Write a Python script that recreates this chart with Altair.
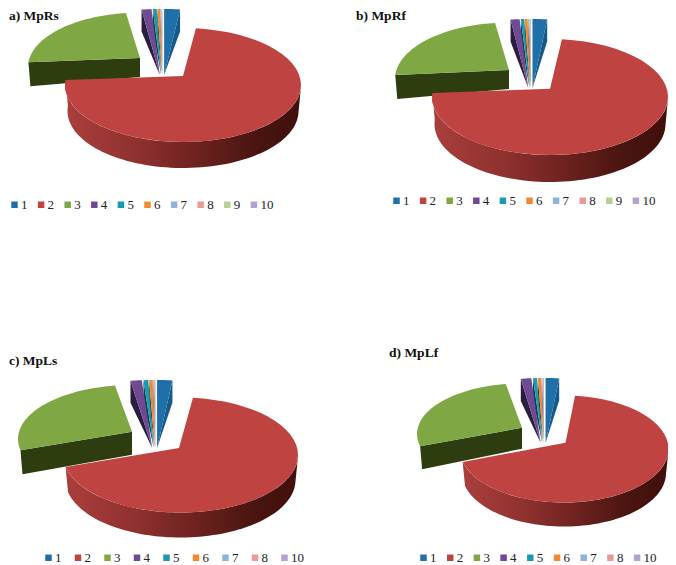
import math
import altair as alt

LABELS = ["1", "2", "3", "4", "5", "6", "7", "8", "9", "10"]
COLORS = ["#1f6fa8", "#be4341", "#7fa844", "#6f4a92", "#1a9ab0", "#f08a30",
          "#8fb2db", "#e79a98", "#b6d196", "#b3a2c9"]
WALLS = ["#155a88", "#be4341", "#2d3d10", "#2a1d40", "#0f3f4a", "#3a2a20",
         "#2a2a30", "#2a2a30", "#2a2a30", "#2a2a30"]

# Share of each category (percent)
MPRS = [1.75, 74.64, 21.61, 1.09, 0.42, 0.29, 0.1, 0.08, 0.01, 0.01]
MPRF = [1.61, 74.5, 21.94, 1.0, 0.36, 0.31, 0.07, 0.07, 0.07, 0.07]
MPLS = [1.69, 69.97, 25.94, 1.25, 0.53, 0.39, 0.08, 0.08, 0.0, 0.06]
MPLF = [1.69, 69.42, 26.42, 1.31, 0.5, 0.42, 0.08, 0.08, 0.0, 0.08]

# Layout of each panel, in page pixels
PANELS = [
    dict(title="a) MpRs", values=MPRS, tx=9, ty=16, skip=None,
         lx=11, ly=204, pad=0.6,
         red=dict(ax=183, ay=76, cx=183, cy=85, rx=118, ry=57, d=26),
         green=dict(ax=140, ay=58, cx=140, cy=67, rx=112, ry=54.4, da=19, dl=24),
         small=dict(ax=162.5, ay=75, cy=84, rx=145, ry=75, d=22)),
    dict(title="b) MpRf", values=MPRF, tx=356, ty=16, skip=None,
         lx=393, ly=200, pad=0.6,
         red=dict(ax=550, ay=88.7, cx=550, cy=97, rx=118, ry=58, d=27),
         green=dict(ax=509, ay=70, cx=509, cy=79, rx=114, ry=56.5, da=19, dl=24),
         small=dict(ax=531, ay=88, cy=97, rx=145, ry=78, d=22)),
    dict(title="c) MpLs", values=MPLS, tx=9, ty=361, skip="9",
         lx=45, ly=557, pad=3.5,
         red=dict(ax=179, ay=448, cx=180.5, cy=455, rx=117.5, ry=57.5, d=25),
         green=dict(ax=132, ay=431.7, cx=132, cy=439, rx=114, ry=54, da=23, dl=24),
         small=dict(ax=155.5, ay=448, cy=457, rx=145, ry=77, d=22)),
    dict(title="d) MpLf", values=MPLF, tx=389, ty=353, skip="9",
         lx=420, ly=557, pad=0.7,
         red=dict(ax=565.5, ay=442.7, cx=564, cy=449, rx=104.5, ry=53.5, d=24),
         green=dict(ax=522, ay=427.7, cx=522, cy=434, rx=105, ry=50.6, da=21, dl=23),
         small=dict(ax=544, ay=442.7, cy=451, rx=128, ry=73, d=22)),
]

M = 8  # page margin
W, H = 660, 557


def X(v):
    return v - M


def Y(v):
    return v - M


def pt(cx, cy, rx, ry, deg):
    t = math.radians(deg)
    return [X(cx + rx * math.sin(t)), Y(cy - ry * math.cos(t))]


def arc(cx, cy, rx, ry, a, b, n=48):
    return [pt(cx, cy, rx, ry, a + (b - a) * i / n) for i in range(n + 1)]


def feature(ring, slice_label, fill):
    ring = ring + [ring[0]]
    return {"type": "Feature",
            "geometry": {"type": "Polygon", "coordinates": [ring]},
            "properties": {"slice": slice_label, "fill": fill}}


PROJ = dict(type="identity", scale=1, translate=[0, 0])
layers = []

for p in PANELS:
    total = sum(p["values"])
    angles = [v / total * 360 for v in p["values"]]
    start = [sum(angles[:i]) for i in range(10)]
    tops, walls = [], []

    r, g, s = p["red"], p["green"], p["small"]
    # small slices
    for i in [3, 4, 5, 6, 7, 8, 9, 0]:
        if angles[i] <= 0:
            continue
        a, b = start[i], start[i] + angles[i]
        if i != 0:
            a -= 360
            b -= 360
        mid = math.radians((a + b) / 2)
        ax = s["ax"] + 30 * math.sin(mid)
        apex = [X(ax), Y(s["ay"])]
        tops.append(feature([apex] + arc(ax, s["cy"], s["rx"], s["ry"], a, b, 6),
                            LABELS[i], COLORS[i]))
        edge = b if i == 0 else a
        tip = pt(ax, s["cy"], s["rx"], s["ry"], edge)
        walls.append(feature([tip, [tip[0], tip[1] + s["d"]], apex], LABELS[i], WALLS[i]))

    # green slice
    a, b = start[2], start[2] + angles[2]
    apex = [X(g["ax"]), Y(g["ay"])]
    tops.append(feature([apex] + arc(g["cx"], g["cy"], g["rx"], g["ry"], a, b), "3", COLORS[2]))
    tip = pt(g["cx"], g["cy"], g["rx"], g["ry"], a)
    walls.append(feature([apex, [apex[0], apex[1] + g["da"]],
                          [tip[0] + 2, tip[1] + g["dl"]], tip], "3", WALLS[2]))

    # red slice
    a, b = start[1], start[1] + angles[1]
    apex = [X(r["ax"]), Y(r["ay"])]
    tops.append(feature([apex] + arc(r["cx"], r["cy"], r["rx"], r["ry"], a, b), "2", COLORS[1]))
    upper = arc(r["cx"], r["cy"], r["rx"], r["ry"], 92, b, 72)
    lower = arc(r["cx"], r["cy"] + r["d"], r["rx"] - 2.5, r["ry"], 92, b, 72)
    red_wall = feature(upper + lower[::-1], "2", "gradient")

    layers.append(
        alt.Chart(alt.Data(values=walls)).mark_geoshape(strokeWidth=0).encode(
            fill=alt.Fill("properties.fill:N", scale=None, legend=None)
        ).project(**PROJ)
    )
    layers.append(
        alt.Chart(alt.Data(values=[red_wall])).mark_geoshape(
            strokeWidth=0,
            fill=alt.Gradient(
                gradient="linear", x1=0, x2=1, y1=0, y2=0,
                stops=[alt.GradientStop(offset=0, color="#aa3f3d"),
                       alt.GradientStop(offset=0.3, color="#8f312f"),
                       alt.GradientStop(offset=0.55, color="#6f2320"),
                       alt.GradientStop(offset=0.8, color="#4a1510"),
                       alt.GradientStop(offset=1, color="#40100c")]),
        ).project(**PROJ)
    )

    domain = [l for l in LABELS if l != p["skip"]]
    rng = [c for l, c in zip(LABELS, COLORS) if l != p["skip"]]
    layers.append(
        alt.Chart(alt.Data(values=tops)).mark_geoshape(strokeWidth=0).encode(
            color=alt.Color(
                "properties.slice:N",
                scale=alt.Scale(domain=domain, range=rng),
                legend=alt.Legend(
                    title=None, orient="none", direction="horizontal",
                    columns=len(domain), gridAlign="all",
                    legendX=X(p["lx"] - 3), legendY=Y(p["ly"] - 6),
                    symbolType="square", symbolSize=42, symbolStrokeWidth=0,
                    columnPadding=p["pad"], labelOffset=0, padding=0,
                    labelFont="Liberation Serif", labelFontSize=13,
                    labelColor="#222222"),
            )
        ).project(**PROJ)
    )
    layers.append(
        alt.Chart(alt.Data(values=[{"t": p["title"]}])).mark_text(
            align="left", baseline="middle", font="Liberation Serif",
            fontWeight="bold", fontSize=13.5, color="#111111",
        ).encode(
            x=alt.value(X(p["tx"])), y=alt.value(Y(p["ty"])), text="t:N"
        )
    )

chart = alt.layer(*layers).resolve_scale(color="independent").properties(
    width=W, height=H, padding=0, autosize=alt.AutoSizeParams(type="none"),
).configure_view(stroke=None)

chart.save("out.html", embed_options={"renderer": "svg", "actions": False})
